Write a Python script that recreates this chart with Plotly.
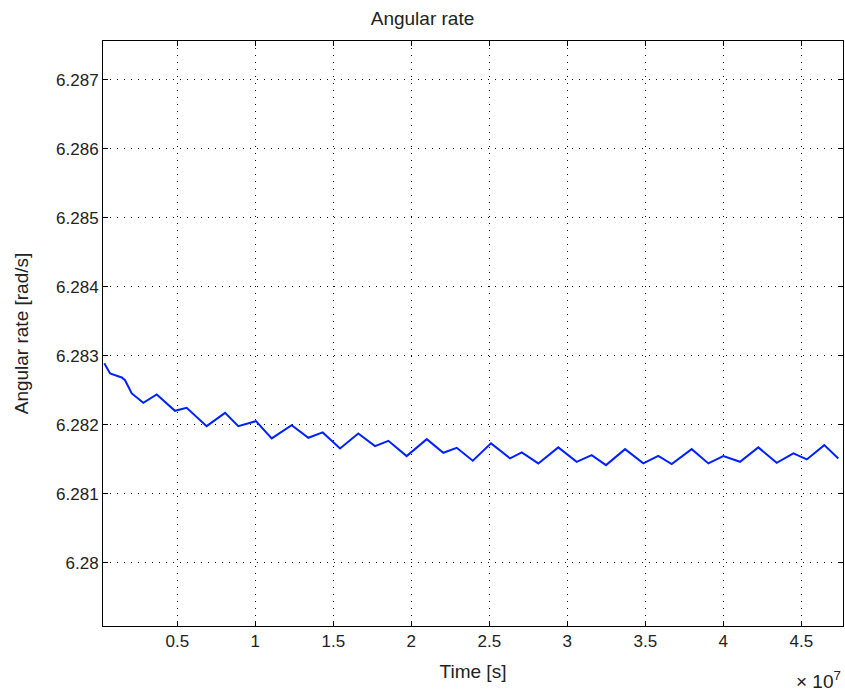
import plotly.graph_objects as go

# Time in units of 1e7 s, angular rate in rad/s
time_1e7 = [0.032, 0.069, 0.144, 0.165, 0.208, 0.282, 0.368, 0.485, 0.560, 0.688,
            0.806, 0.891, 1.004, 1.105, 1.233, 1.340, 1.432, 1.543, 1.660, 1.767,
            1.853, 1.970, 2.099, 2.205, 2.291, 2.394, 2.511, 2.633, 2.708, 2.814,
            2.942, 3.060, 3.156, 3.248, 3.370, 3.487, 3.583, 3.669, 3.797, 3.904,
            4.000, 4.107, 4.224, 4.342, 4.449, 4.535, 4.647, 4.737]
rate = [6.28289, 6.282742, 6.282684, 6.282645, 6.282453, 6.282317, 6.282438, 6.282201, 6.282244, 6.281979,
        6.282172, 6.281979, 6.282052, 6.281801, 6.281994, 6.281810, 6.281888, 6.281656, 6.281873, 6.281690,
        6.281767, 6.281545, 6.281791, 6.281593, 6.281665, 6.281477, 6.281729, 6.281511, 6.281598, 6.281439,
        6.281671, 6.281462, 6.281559, 6.281414, 6.281646, 6.281439, 6.281549, 6.281429, 6.281646, 6.281439,
        6.281545, 6.281462, 6.281671, 6.281448, 6.281584, 6.281497, 6.281704, 6.281511]

x_ticks = [0.5, 1, 1.5, 2, 2.5, 3, 3.5, 4, 4.5]
x_ticktext = ["0.5", "1", "1.5", "2", "2.5", "3", "3.5", "4", "4.5"]
y_ticks = [6.280, 6.281, 6.282, 6.283, 6.284, 6.285, 6.286, 6.287]
y_ticktext = ["6.28", "6.281", "6.282", "6.283", "6.284", "6.285", "6.286", "6.287"]

FONT = "Liberation Sans, Arial, sans-serif"

fig = go.Figure()
fig.add_trace(go.Scatter(x=time_1e7, y=rate, mode="lines",
                         line=dict(color="#0022ff", width=2), showlegend=False))

axis_common = dict(
    showline=True, linecolor="black", linewidth=1, mirror="ticks",
    ticks="inside", ticklen=5, tickcolor="black", tickwidth=1,
    showgrid=True, gridcolor="black", gridwidth=1, griddash="1px,6px",
    zeroline=False, tickfont=dict(family=FONT, size=17, color="#222222"),
)

fig.update_layout(
    width=845, height=694,
    margin=dict(l=103, r=2, t=41, b=68),
    paper_bgcolor="white", plot_bgcolor="white",
    font=dict(family=FONT, size=19, color="#222222"),
    title=dict(text="Angular rate", x=0.5, xanchor="center", y=1 - 18 / 694,
               yanchor="middle", font=dict(family=FONT, size=19, color="#222222")),
    xaxis=dict(range=[0.0237, 4.767], tickvals=x_ticks, ticktext=x_ticktext,
               title=dict(text="Time [s]", standoff=14,
                          font=dict(family=FONT, size=19)),
               **axis_common),
    yaxis=dict(range=[6.279083, 6.28756], tickvals=y_ticks, ticktext=y_ticktext,
               title=dict(text="Angular rate [rad/s]", standoff=22,
                          font=dict(family=FONT, size=19)),
               **axis_common),
)

fig.add_annotation(text="\u00d7 10<sup>7</sup>", xref="paper", yref="paper",
                   x=1.0, y=-(680 - 626) / 585, xanchor="right", yanchor="middle",
                   showarrow=False, font=dict(family=FONT, size=19, color="#222222"))

fig.write_html("out.html")
